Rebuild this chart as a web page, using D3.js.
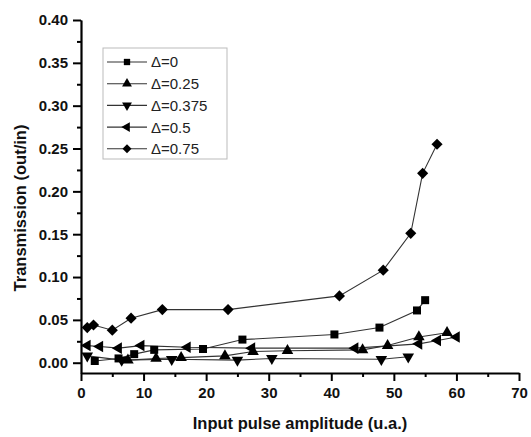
<!DOCTYPE html>
<meta charset="utf-8">
<html>
<head>
  <script src="https://d3js.org/d3.v7.min.js"></script>
  <style>
    body { margin: 0; background: #fff; }
    .axis path, .axis line { stroke: #000; }
    .axis text { font-family: 'Liberation Sans', Arial, sans-serif; font-weight: bold; font-size: 15px; fill: #111; }
    .title { font-family: 'Liberation Sans', Arial, sans-serif; font-weight: bold; font-size: 16.5px; fill: #111; }
    .leg text { font-family: 'Liberation Sans', Arial, sans-serif; font-size: 15px; fill: #222; }
  </style>
</head>
<body>
<script>
  // legend names
  var names = ['\u0394=0', '\u0394=0.25', '\u0394=0.375', '\u0394=0.5', '\u0394=0.75'];

  // input pulse amplitude / transmission for each delta
  var x0 = [2.2, 6, 8.5, 11.7, 19.5, 25.8, 40.5, 47.7, 53.7, 55];
  var y0 = [0.002, 0.005, 0.010, 0.015, 0.016, 0.027, 0.033, 0.041, 0.061, 0.073];

  var x25 = [7.5, 12, 16, 23, 27.5, 33, 45, 49, 54, 58.5];
  var y25 = [0.003, 0.005, 0.006, 0.008, 0.013, 0.014, 0.015, 0.020, 0.030, 0.035];

  var x375 = [1, 6.5, 14.5, 25, 30.5, 48, 52.3];
  var y375 = [0.008, 0.003, 0.004, 0.003, 0.005, 0.004, 0.007];

  var x50 = [1, 3, 6, 9.6, 17, 27.3, 43.8, 54, 57, 60];
  var y50 = [0.020, 0.019, 0.017, 0.020, 0.018, 0.017, 0.017, 0.022, 0.026, 0.030];

  var x75 = [1, 2, 5, 8, 13, 23.5, 41.3, 48.3, 52.7, 54.6, 56.9];
  var y75 = [0.041, 0.044, 0.038, 0.052, 0.062, 0.062, 0.078, 0.108, 0.151, 0.221, 0.255];

  var xTicks = [0, 10, 20, 30, 40, 50, 60, 70];
  var yTicks = [0, 0.05, 0.10, 0.15, 0.20, 0.25, 0.30, 0.35, 0.40];

  var W = 531, H = 437;
  var m = { top: 20, right: 12, bottom: 64, left: 81 };

  var svg = d3.select('body').append('svg')
    .attr('width', W)
    .attr('height', H);

  var x = d3.scaleLinear().domain([0, 70]).range([m.left, W - m.right]);
  var y = d3.scaleLinear().domain([-0.012, 0.40]).range([H - m.bottom, m.top]);

  // marker shapes
  var sq = d3.symbol().type(d3.symbolSquare);
  var tri = d3.symbol().type(d3.symbolTriangle);
  var shapes = [
    { path: sq.size(64)(), rot: 0 },
    { path: tri.size(58)(), rot: 0 },
    { path: tri.size(58)(), rot: 180 },
    { path: tri.size(58)(), rot: -90 },
    { path: sq.size(62)(), rot: 45 }
  ];
  var legShapes = [
    { path: sq.size(40)(), rot: 0 },
    { path: tri.size(42)(), rot: 0 },
    { path: tri.size(42)(), rot: 180 },
    { path: tri.size(42)(), rot: -90 },
    { path: sq.size(40)(), rot: 45 }
  ];

  var series = [[x0, y0], [x25, y25], [x375, y375], [x50, y50], [x75, y75]].map(function (s, i) {
    return s[0].map(function (v, j) { return { x: v, y: s[1][j], k: i }; });
  });

  // minor ticks
  svg.append('g')
    .attr('class', 'axis')
    .attr('transform', `translate(0, ${H - m.bottom})`)
    .call(d3.axisBottom(x).tickValues(d3.range(5, 70, 10)).tickSize(4).tickSizeOuter(0).tickFormat(''))
    .selectAll('line').attr('stroke-width', 2);

  svg.append('g')
    .attr('class', 'axis')
    .attr('transform', `translate(${m.left}, 0)`)
    .call(d3.axisLeft(y).tickValues(d3.range(0.025, 0.4, 0.05)).tickSize(4).tickSizeOuter(0).tickFormat(''))
    .selectAll('line').attr('stroke-width', 2);

  // X axis
  var gx = svg.append('g')
    .attr('class', 'axis')
    .attr('transform', `translate(0, ${H - m.bottom})`)
    .call(d3.axisBottom(x).tickValues(xTicks).tickSize(8).tickSizeOuter(0).tickPadding(6).tickFormat(d3.format('d')));
  gx.select('.domain').attr('stroke-width', 2.2);
  gx.selectAll('line').attr('stroke-width', 2);

  // Y axis
  var gy = svg.append('g')
    .attr('class', 'axis')
    .attr('transform', `translate(${m.left}, 0)`)
    .call(d3.axisLeft(y).tickValues(yTicks).tickSize(8).tickSizeOuter(0).tickPadding(5).tickFormat(d3.format('.2f')));
  gy.select('.domain').attr('stroke-width', 2.2);
  gy.selectAll('line').attr('stroke-width', 2);

  // titles
  svg.append('text')
    .attr('class', 'title')
    .attr('x', (x(0) + x(70)) / 2)
    .attr('y', 429)
    .attr('text-anchor', 'middle')
    .text('Input pulse amplitude (u.a.)');

  svg.append('text')
    .attr('class', 'title')
    .attr('transform', 'translate(26, 208) rotate(-90)')
    .attr('text-anchor', 'middle')
    .text('Transmission (out/in)');

  // lines
  var line = d3.line().x(d => x(d.x)).y(d => y(d.y));
  svg.selectAll('.series')
    .data(series)
    .enter()
    .append('path')
    .attr('class', 'series')
    .attr('d', line)
    .attr('fill', 'none')
    .attr('stroke', '#333')
    .attr('stroke-width', 1.1);

  // markers
  svg.selectAll('.pts')
    .data(series)
    .enter()
    .append('g')
    .attr('class', 'pts')
    .selectAll('path')
    .data(d => d)
    .enter()
    .append('path')
    .attr('d', d => shapes[d.k].path)
    .attr('transform', d => `translate(${x(d.x)}, ${y(d.y)}) rotate(${shapes[d.k].rot})`)
    .attr('fill', '#000');

  // legend
  var leg = svg.append('g').attr('class', 'leg').attr('transform', 'translate(103, 48)');
  leg.append('rect')
    .attr('width', 124)
    .attr('height', 111)
    .attr('fill', '#fff')
    .attr('stroke', '#bbb');

  var row = leg.selectAll('.row')
    .data(names)
    .enter()
    .append('g')
    .attr('class', 'row')
    .attr('transform', (d, i) => `translate(0, ${14 + i * 21.7})`);

  row.append('line')
    .attr('x1', 4).attr('x2', 44)
    .attr('stroke', '#333').attr('stroke-width', 1.1);

  row.append('path')
    .attr('d', (d, i) => legShapes[i].path)
    .attr('transform', (d, i) => `translate(24, 0) rotate(${legShapes[i].rot})`)
    .attr('fill', '#000');

  row.append('text')
    .attr('x', 48)
    .attr('dy', '0.36em')
    .text(d => d);
</script>
</body>
</html>
